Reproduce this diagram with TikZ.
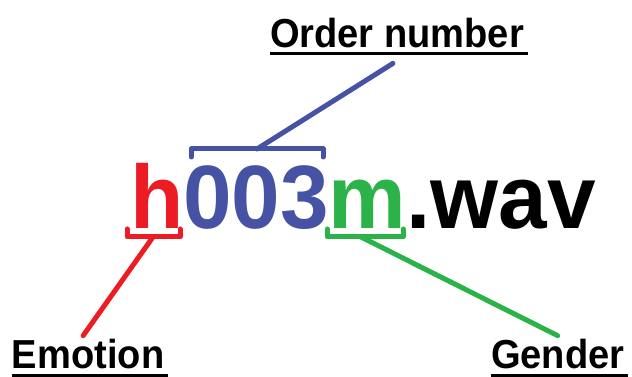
\documentclass[tikz,border=0pt]{standalone}
\usepackage{fontspec}
\setmainfont{Liberation Sans}
\usepackage{tikz}
\definecolor{emored}{RGB}{237,28,36}
\definecolor{numblue}{RGB}{70,82,163}
\definecolor{gengreen}{RGB}{43,179,74}

\begin{document}
\begin{tikzpicture}[
    x=1pt, y=1pt,
    every node/.style = {
      inner sep=0pt,
      outer sep=0pt
    },
    partname/.style = {
      font=\bfseries\fontsize{90}{90}\selectfont,
      xscale=0.97,
      anchor=base west
    },
    tagname/.style = {
      font=\bfseries\fontsize{40.5}{40.5}\selectfont,
      xscale=0.94,
      anchor=base west
    },
    brace/.style = {line width=5pt, line join=round, line cap=round},
    pointer/.style = {line width=5pt, line cap=round},
    underline/.style = {line width=3pt}
  ]
    \useasboundingbox (0,0) rectangle (632,377);

    % File name
    \node[partname, text=emored] (emo) at (130,148) {h};
    \node[partname, text=numblue] (num) at (emo.base east) {003};
    \node[partname, text=gengreen] (gen) at (num.base east) {m};
    \node[partname] (ext) at (gen.base east) {.wav};

    % Labels
    \node[tagname] (numlab) at (270,329.5) {Order number};
    \node[tagname] (emolab) at (12,8) {Emotion};
    \node[tagname] (genlab) at (491,8) {Gender};
    \foreach \lab in {numlab, emolab, genlab}
      \draw[underline] ([yshift=-6.5pt]\lab.base west)
        -- ([xshift=4pt,yshift=-6.5pt]\lab.base east);

    % Brackets
    \draw[brace, numblue] (191,220) -- (191,228) -- (323,228) -- (323,220);
    \draw[brace, emored] (127,148) -- (127,140) -- (180,140) -- (180,148);
    \draw[brace, gengreen] (327,148) -- (327,140) -- (403,140) -- (403,148);
    \coordinate (numtip) at (257,228);
    \coordinate (emotip) at (153,140);
    \coordinate (gentip) at (361,140);

    % Pointers
    \draw[pointer, numblue] (numtip) -- ([xshift=-4pt,yshift=-15.5pt]numlab.south);
    \draw[pointer, emored] (emotip) -- ([xshift=-5pt,yshift=4pt]emolab.north);
    \draw[pointer, gengreen] (gentip) -- ([yshift=4pt]genlab.north);
  \end{tikzpicture}
\end{document}
